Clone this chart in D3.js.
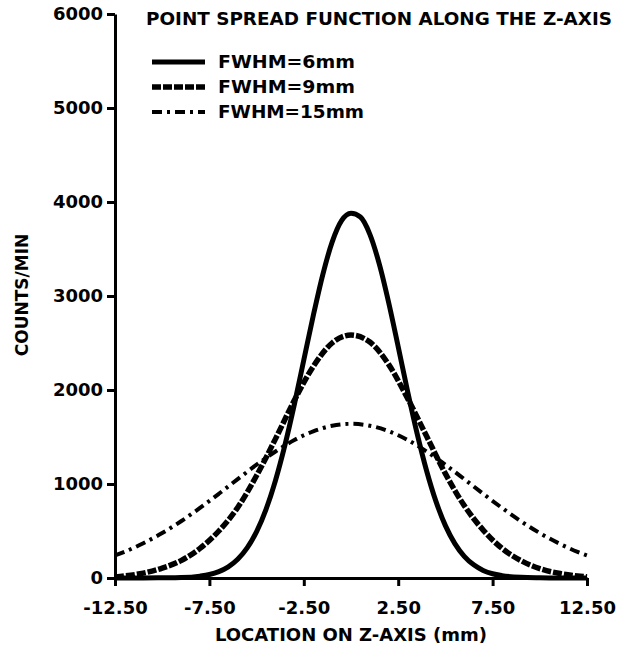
<!DOCTYPE html>
<html>
<head>
<meta charset="utf-8">
<script src="https://cdn.jsdelivr.net/npm/d3@7"></script>
<style>
  body { margin: 0; background: #fff; }
  svg { display: block; font-family: "DejaVu Sans", sans-serif; font-weight: bold; }
</style>
</head>
<body>
<svg id="chart" width="621" height="658"></svg>
<script>
// location on z-axis (mm) and counts/min
var x6 = [-12.5, -11, -10, -9, -8, -7.5, -7, -6.5, -6, -5.5, -5, -4.5, -4, -3.5, -3, -2.5, -2, -1.5, -1, -0.5,
    0, 0.5, 1, 1.5, 2, 2.5, 3, 3.5, 4, 4.5, 5, 5.5, 6, 6.5, 7, 7.5, 8, 9, 10, 11, 12.5]
var y6 = [0, 0, 2, 5, 20, 37, 68, 119, 199, 321, 494, 731, 1038, 1413, 1847, 2318, 2790, 3223, 3573, 3801,
    3880, 3840, 3656, 3339, 2926, 2461, 1985, 1539, 1144, 815, 557, 366, 231, 140, 81, 45, 25, 7, 2, 0, 0]

var x9 = [-12.5, -12, -11, -10, -9, -8, -7, -6, -5, -4, -3, -2, -1, 0, 1, 2, 3, 4, 5, 6, 7, 8, 9, 10, 11, 12, 12.5]
var y9 = [12, 22, 52, 105, 185, 315, 500, 750, 1090, 1480, 1890, 2250, 2500, 2585, 2510, 2270, 1910, 1510,
    1110, 770, 510, 315, 185, 100, 50, 22, 12]

var x15 = [-12.5, -12, -11, -10, -9, -8, -7, -6, -5, -4, -3, -2, -1, 0, 1, 2, 3, 4, 5, 6, 7, 8, 9, 10, 11, 12, 12.5]
var y15 = [240, 278, 370, 478, 604, 745, 896, 1052, 1205, 1346, 1468, 1561, 1620, 1640, 1620, 1561, 1468, 1346,
    1205, 1052, 896, 745, 604, 478, 370, 278, 240]

var seriesNames = ["FWHM=6mm", "FWHM=9mm", "FWHM=15mm"]
var xTicks = [-12.5, -7.5, -2.5, 2.5, 7.5, 12.5]
var yTicks = [0, 1000, 2000, 3000, 4000, 5000, 6000]

var width = 621
var height = 658
var margin = {top: 14, right: 34, bottom: 80, left: 115}

var svg = d3.select("#chart")
var g = svg.append("g").attr("transform", "translate(" + margin.left + "," + margin.top + ")")
var w = width - margin.left - margin.right
var h = height - margin.top - margin.bottom

var x = d3.scaleLinear().domain([-12.5, 12.5]).range([0, w])
var y = d3.scaleLinear().domain([0, 6000]).range([h, 0])

// line styles per series
var styles = [
    {dash: null, width: 5},
    {dash: "9,2", width: 5.5},
    {dash: "10,5,3,5", width: 4}
]

var series = [
    d3.zip(x6, y6),
    d3.zip(x9, y9),
    d3.zip(x15, y15)
]

var line = d3.line()
    .x(function(d) { return x(d[0]) })
    .y(function(d) { return y(d[1]) })
    .curve(d3.curveMonotoneX)

g.selectAll(".curve")
    .data(series)
    .enter().append("path")
    .attr("class", "curve")
    .attr("d", line)
    .attr("fill", "none")
    .attr("stroke", "#000")
    .attr("stroke-width", function(d, i) { return styles[i].width })
    .attr("stroke-dasharray", function(d, i) { return styles[i].dash })
    .attr("stroke-linejoin", "round")

// axes
var yAxis = d3.axisLeft(y)
    .tickValues(yTicks)
    .tickFormat(function(d) { return d })
    .tickSize(8)
    .tickSizeOuter(0)
    .tickPadding(4)

var xAxis = d3.axisBottom(x)
    .tickValues(xTicks)
    .tickFormat(function(d) { return d.toFixed(2) })
    .tickSize(8)
    .tickSizeOuter(0)
    .tickPadding(15)

var gy = g.append("g").call(yAxis)
var gx = g.append("g").attr("transform", "translate(0," + h + ")").call(xAxis)

;[gx, gy].forEach(function(a) {
    a.select(".domain").attr("stroke-width", 3)
    a.selectAll(".tick line").attr("stroke-width", 3)
    a.selectAll(".tick text")
        .attr("fill", "#000")
        .style("font-size", "18px")
        .style("font-family", "'DejaVu Sans', sans-serif")
        .style("font-weight", "bold")
})

// title
svg.append("text")
    .attr("x", 146)
    .attr("y", 25)
    .attr("textLength", 466)
    .attr("lengthAdjust", "spacingAndGlyphs")
    .style("font-size", "17px")
    .text("POINT SPREAD FUNCTION ALONG THE Z-AXIS")

// legend
var legendWidths = [137, 137, 146]
var legend = svg.append("g").selectAll("g")
    .data(seriesNames)
    .enter().append("g")
    .attr("transform", function(d, i) { return "translate(0," + (62 + i * 25) + ")" })

legend.append("line")
    .attr("x1", 152).attr("x2", 205)
    .attr("stroke", "#000")
    .attr("stroke-width", function(d, i) { return styles[i].width })
    .attr("stroke-dasharray", function(d, i) { return styles[i].dash })

legend.append("text")
    .attr("x", 218)
    .attr("dy", "0.36em")
    .attr("textLength", function(d, i) { return legendWidths[i] })
    .attr("lengthAdjust", "spacingAndGlyphs")
    .style("font-size", "17px")
    .text(function(d) { return d })

// axis titles
svg.append("text")
    .attr("x", margin.left + w / 2)
    .attr("y", 641)
    .attr("text-anchor", "middle")
    .style("font-size", "18px")
    .text("LOCATION ON Z-AXIS (mm)")

svg.append("text")
    .attr("transform", "translate(28,295) rotate(-90)")
    .attr("text-anchor", "middle")
    .style("font-size", "17px")
    .text("COUNTS/MIN")
</script>
</body>
</html>
